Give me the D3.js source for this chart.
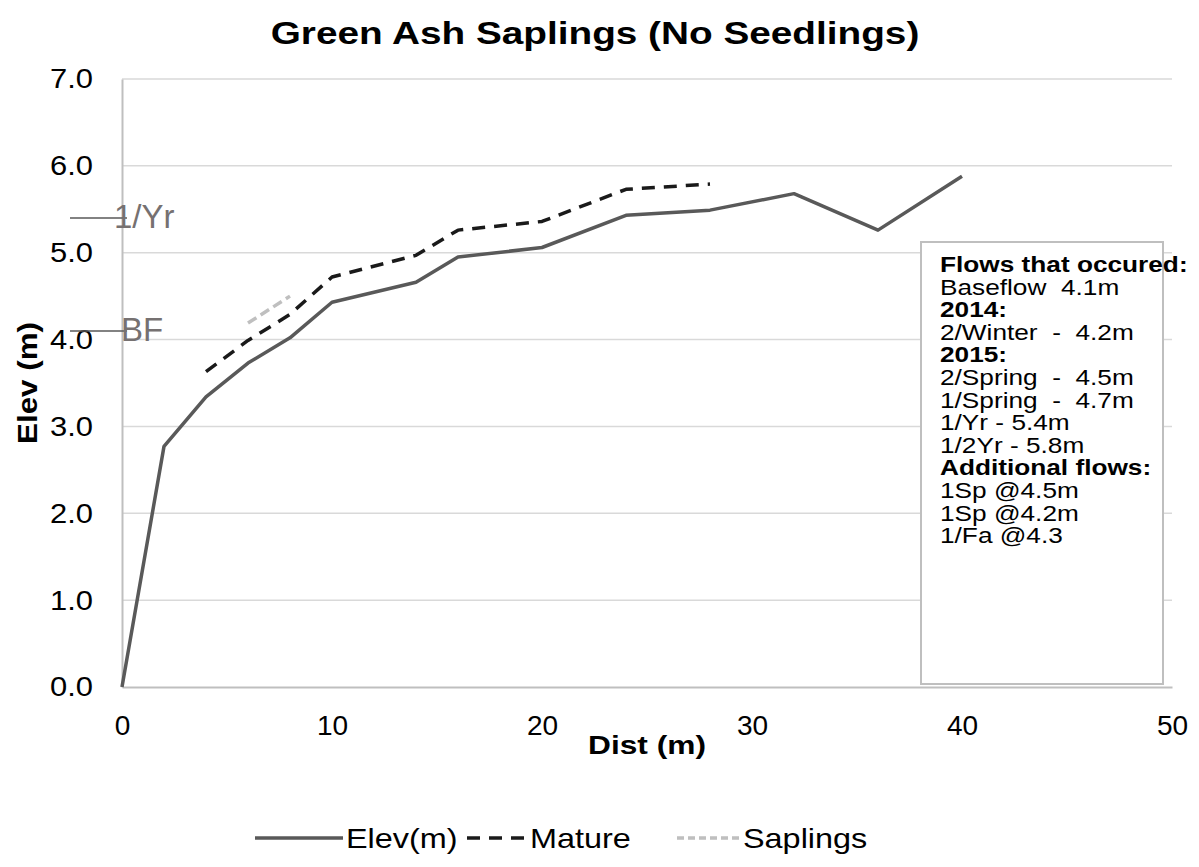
<!DOCTYPE html>
<html>
<head>
<meta charset="utf-8">
<script src="https://cdn.jsdelivr.net/npm/d3@7"></script>
<style>
  html, body { margin: 0; padding: 0; background: #fff; }
  svg { display: block; }
  text { font-family: "Liberation Sans", Arial, sans-serif; white-space: pre; }
</style>
</head>
<body>
<svg id="chart" width="1199" height="867"></svg>
<script>
// Ground profile and tree elevations along the transect
const elevDist = [0, 2, 4, 6, 8, 10, 14, 16, 20, 24, 28, 32, 36, 40];
const elevVals = [0, 2.77, 3.34, 3.73, 4.02, 4.43, 4.66, 4.95, 5.06, 5.43, 5.49, 5.68, 5.26, 5.88];

const matureDist = [4, 6, 8, 10, 14, 16, 20, 24, 28];
const matureVals = [3.63, 3.99, 4.29, 4.72, 4.97, 5.26, 5.36, 5.73, 5.79];

const saplingDist = [6, 8];
const saplingVals = [4.19, 4.5];

// Flow stage markers drawn at the left edge
const stageNames = ["1/Yr", "BF"];
const stageVals = [5.4, 4.1];

const xTicks = [0, 10, 20, 30, 40, 50];
const yTicks = [0, 1, 2, 3, 4, 5, 6, 7];

const noteLines = [
  ["Flows that occured:", true],
  ["Baseflow  4.1m", false],
  ["2014:", true],
  ["2/Winter  -  4.2m", false],
  ["2015:", true],
  ["2/Spring  -  4.5m", false],
  ["1/Spring  -  4.7m", false],
  ["1/Yr - 5.4m", false],
  ["1/2Yr - 5.8m", false],
  ["Additional flows:", true],
  ["1Sp @4.5m", false],
  ["1Sp @4.2m", false],
  ["1/Fa @4.3", false]
];

const svg = d3.select("#chart");
const m = { left: 122, right: 1172, top: 79, bottom: 687 };

const x = d3.scaleLinear().domain([0, 50]).range([m.left, m.right]);
const y = d3.scaleLinear().domain([0, 7]).range([m.bottom, m.top]);

// horizontal gridlines
svg.append("g")
  .selectAll("line")
  .data(yTicks.slice(1))
  .join("line")
  .attr("x1", m.left).attr("x2", m.right)
  .attr("y1", d => y(d)).attr("y2", d => y(d))
  .attr("stroke", "#d9d9d9").attr("stroke-width", 1.5);

// axes
const xAxis = svg.append("g")
  .attr("transform", `translate(0,${m.bottom})`)
  .call(d3.axisBottom(x).tickValues(xTicks).tickSize(0).tickPadding(28).tickFormat(d3.format("d")));
xAxis.select(".domain").attr("stroke", "#bfbfbf").attr("stroke-width", 2);
xAxis.selectAll("text").attr("font-size", 28).attr("fill", "#000")
  .attr("font-family", "Liberation Sans, Arial, sans-serif");

const yAxis = svg.append("g")
  .attr("transform", `translate(${m.left},0)`)
  .call(d3.axisLeft(y).tickValues(yTicks).tickSize(0).tickPadding(29).tickFormat(d3.format(".1f")));
yAxis.select(".domain").attr("stroke", "#bfbfbf").attr("stroke-width", 2);
yAxis.selectAll("text").attr("font-size", 28).attr("fill", "#000")
  .attr("textLength", 43).attr("lengthAdjust", "spacingAndGlyphs")
  .attr("font-family", "Liberation Sans, Arial, sans-serif");

// series lines
const line = d3.line().x(d => x(d[0])).y(d => y(d[1]));
const zip = (a, b) => a.map((v, i) => [v, b[i]]);

svg.append("path")
  .datum(zip(elevDist, elevVals))
  .attr("d", line)
  .attr("fill", "none").attr("stroke", "#595959").attr("stroke-width", 3.5)
  .attr("stroke-linejoin", "round");

svg.append("path")
  .datum(zip(matureDist, matureVals))
  .attr("d", line)
  .attr("fill", "none").attr("stroke", "#1a1a1a").attr("stroke-width", 3.5)
  .attr("stroke-dasharray", "13,9").attr("stroke-linejoin", "round");

svg.append("path")
  .datum(zip(saplingDist, saplingVals))
  .attr("d", line)
  .attr("fill", "none").attr("stroke", "#bfbfbf").attr("stroke-width", 3.5)
  .attr("stroke-dasharray", "10,5");

// flow stage markers
const stage = svg.append("g");
stageNames.forEach((name, i) => {
  stage.append("line")
    .attr("x1", 70).attr("x2", 127)
    .attr("y1", y(stageVals[i])).attr("y2", y(stageVals[i]))
    .attr("stroke", "#595959").attr("stroke-width", 1.5);
  stage.append("text")
    .attr("x", name === "BF" ? 121 : 114)
    .attr("y", y(stageVals[i]) + 10)
    .attr("font-family", "Lato, 'Open Sans', sans-serif")
    .attr("font-size", 33)
    .attr("fill", "#767171")
    .text(name);
});

// notes box
const boxX = 921, boxY = 242, boxW = 242, boxH = 442;
svg.append("rect")
  .attr("x", boxX).attr("y", boxY).attr("width", boxW).attr("height", boxH)
  .attr("fill", "#fff").attr("stroke", "#bfbfbf").attr("stroke-width", 2);

const notes = svg.append("g");
noteLines.forEach((d, i) => {
  notes.append("text")
    .attr("transform", `translate(940,${272 + i * 22.6}) scale(1.22,1)`)
    .attr("font-size", 21.5)
    .attr("font-weight", d[1] ? "bold" : "normal")
    .attr("fill", "#000")
    .text(d[0]);
});

// title
svg.append("text")
  .attr("transform", `translate(595,44) scale(1.25,1)`)
  .attr("text-anchor", "middle")
  .attr("font-size", 31).attr("font-weight", "bold")
  .text("Green Ash Saplings (No Seedlings)");

// axis titles
svg.append("text")
  .attr("transform", `translate(647,754) scale(1.22,1)`)
  .attr("text-anchor", "middle")
  .attr("font-size", 26).attr("font-weight", "bold")
  .text("Dist (m)");

svg.append("text")
  .attr("transform", `translate(37,383) rotate(-90) scale(1.12,1)`)
  .attr("text-anchor", "middle")
  .attr("font-size", 28).attr("font-weight", "bold")
  .text("Elev (m)");

// legend
const legendItems = [
  { name: "Elev(m)", color: "#595959", dash: null, x1: 255, x2: 343 },
  { name: "Mature", color: "#1a1a1a", dash: "13,9", x1: 467, x2: 527 },
  { name: "Saplings", color: "#bfbfbf", dash: "7,4", x1: 677, x2: 740 }
];
const legend = svg.append("g");
legendItems.forEach(it => {
  legend.append("line")
    .attr("x1", it.x1).attr("x2", it.x2).attr("y1", 838).attr("y2", 838)
    .attr("stroke", it.color).attr("stroke-width", 3.5)
    .attr("stroke-dasharray", it.dash);
  legend.append("text")
    .attr("transform", `translate(${it.x2 + 3},848) scale(1.2,1)`)
    .attr("font-size", 27)
    .text(it.name);
});
</script>
</body>
</html>
